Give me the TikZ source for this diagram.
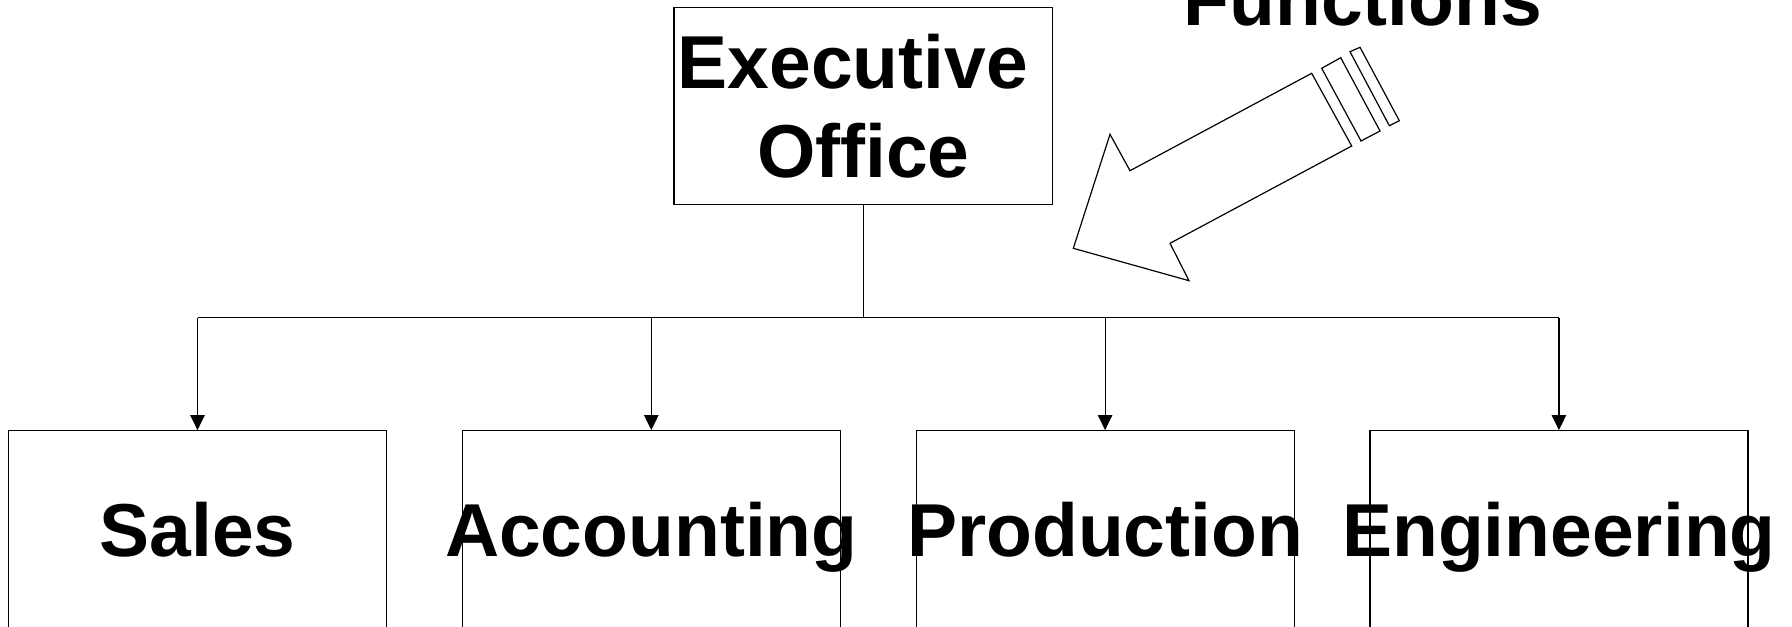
\documentclass[tikz,border=0pt]{standalone}
\usepackage{fontspec}
\setmainfont{Liberation Sans}
\usetikzlibrary{arrows.meta}
\newcommand\widelabel[1]{\makebox[0pt]{#1}}
\tikzset{
  unitbox/.style={draw,line width=0.6pt,inner sep=0pt,align=center,
    font=\fontsize{37.5}{44.5}\selectfont\bfseries},
  dept/.style={unitbox,minimum width=189pt,minimum height=99pt,
    text height=27pt,text depth=0pt},
}
\begin{document}
\begin{tikzpicture}[x=0.5pt,y=-0.5pt,line width=0.6pt,
    >={Triangle[length=7.5pt,width=7.2pt]}]
  \useasboundingbox (0,0) rectangle (1792,626);
  \clip (0,0) rectangle (1792,626);
  \node[unitbox,minimum width=189.4pt,minimum height=98.4pt,
    text height=71.5pt,text depth=0pt] (exec) at (863.3,106)
    {Executive\hspace*{0.278em}\\Office};
  \node[dept] (sales) at (197.5,529.7) {\widelabel{Sales}};
  \node[dept] (acct) at (651.3,529.7) {\widelabel{Accounting}};
  \node[dept] (prod) at (1105.1,529.7) {\widelabel{Production}};
  \node[dept] (eng) at (1558.9,529.7) {\widelabel{Engineering}};
  \node[anchor=base west,inner sep=0pt,
    font=\fontsize{37.5}{44.5}\selectfont\bfseries] (functions) at (1183,26) {Functions};
  % tree lines
  \coordinate (bus) at (863.3,317.5);
  \draw (exec.south) -- (bus);
  \draw (sales.north |- bus) -- (eng.north |- bus);
  \foreach \d in {sales,acct,prod,eng}
    \draw[->] (\d.north |- bus) -- (\d.north);
  % block arrow
  \draw (1073.3,248.3) -- (1110,134.3) -- (1130,170.7) -- (1311.7,73.3)
    -- (1351.7,146) -- (1170,243.3) -- (1189,280.7) -- cycle;
  \draw (1321.7,68.3) -- (1340.7,57.7) -- (1380,131) -- (1361,141) -- cycle;
  \draw (1350,51.7) -- (1360,47.3) -- (1399.3,120.7) -- (1389.3,125.7) -- cycle;
\end{tikzpicture}
\end{document}
